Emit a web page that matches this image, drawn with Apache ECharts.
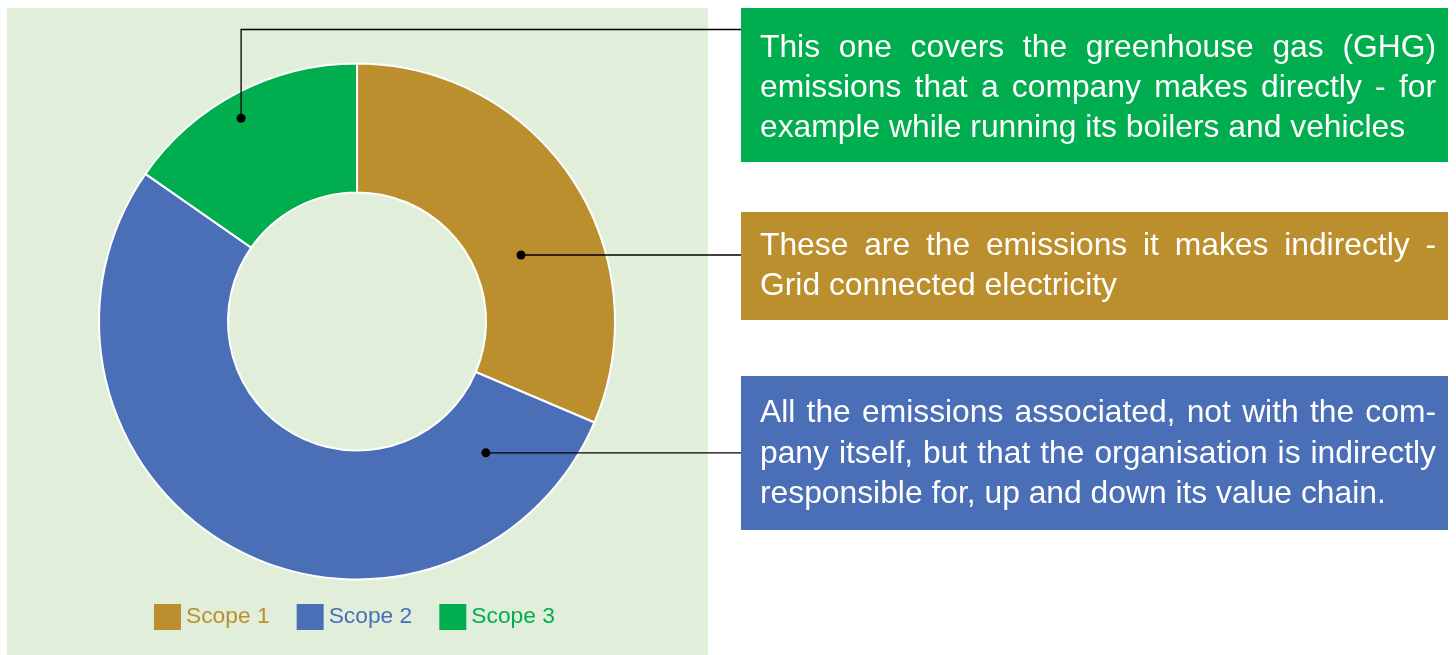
<!DOCTYPE html>
<html>
<head>
<meta charset="utf-8">
<script src="https://cdn.jsdelivr.net/npm/echarts@6/dist/echarts.min.js"></script>
<style>
  html, body { margin: 0; padding: 0; background: #ffffff; }
  #chart { width: 1456px; height: 655px; }
</style>
</head>
<body>
<div id="chart"></div>
<script>
// Emission shares by scope
const categories = ['Scope 1', 'Scope 2', 'Scope 3'];
const values = [31.4, 53.3, 15.3];
const colors = ['#BC8F2E', '#4A6FB7', '#00AE4F'];

// Explanatory notes, one per box (line breaks as typeset)
const noteScope3Box = [
  'This one covers the greenhouse gas (GHG)',
  'emissions that a company makes directly - for',
  'example while running its boilers and vehicles'
];
const noteScope1Box = [
  'These are the emissions it makes indirectly -',
  'Grid connected electricity'
];
const noteScope2Box = [
  'All the emissions associated, not with the com-',
  'pany itself, but that the organisation is indirectly',
  'responsible for, up and down its value chain.'
];

// Layout
const CX = 357, CY = 321.5, R0 = 129, R1 = 258;
const FONT_SIZE = 31.8;
const FONT_FAMILY = '"Liberation Sans", Arial, Helvetica, sans-serif';
const BOX_X = 741, BOX_W = 707, TEXT_X = 760, TEXT_W = 676;

const chart = echarts.init(document.getElementById('chart'), null, { renderer: 'canvas' });

// Slice angles (degrees clockwise from 12 o'clock)
const total = values.reduce((a, b) => a + b, 0);
const sliceAngles = [];
let acc = 0;
values.forEach(v => {
  const a0 = acc / total * 360;
  acc += v;
  sliceAngles.push([a0, acc / total * 360]);
});
function anchor(idx, frac, r) {
  const [a0, a1] = sliceAngles[idx];
  const a = (a0 + (a1 - a0) * frac) * Math.PI / 180;
  return [CX + r * Math.sin(a), CY - r * Math.cos(a)];
}

// Text measurement for justified lines
const measureCtx = document.createElement('canvas').getContext('2d');
measureCtx.font = FONT_SIZE + 'px ' + FONT_FAMILY;
function justifiedLine(line, y, justify) {
  const els = [];
  if (!justify) {
    els.push({
      type: 'text', x: TEXT_X, y: y, z: 10,
      style: { text: line, fill: '#ffffff', fontSize: FONT_SIZE, fontFamily: FONT_FAMILY, align: 'left', verticalAlign: 'middle' }
    });
    return els;
  }
  const words = line.split(' ');
  const widths = words.map(w => measureCtx.measureText(w).width);
  const sum = widths.reduce((a, b) => a + b, 0);
  const gap = (TEXT_W - sum) / (words.length - 1);
  let x = TEXT_X;
  words.forEach((w, i) => {
    els.push({
      type: 'text', x: x, y: y, z: 10,
      style: { text: w, fill: '#ffffff', fontSize: FONT_SIZE, fontFamily: FONT_FAMILY, align: 'left', verticalAlign: 'middle' }
    });
    x += widths[i] + gap;
  });
  return els;
}
function noteBox(lines, top, height, color, firstY, step) {
  const els = [{
    type: 'rect', z: 5,
    shape: { x: BOX_X, y: top, width: BOX_W, height: height },
    style: { fill: color }
  }];
  lines.forEach((ln, i) => {
    els.push(...justifiedLine(ln, firstY + i * step, i < lines.length - 1));
  });
  return els;
}

const LINE_STYLE = { stroke: '#000000', lineWidth: 1.3, fill: null };
function dot(p) {
  return { type: 'circle', z: 20, shape: { cx: p[0], cy: p[1], r: 4.5 }, style: { fill: '#000000' } };
}

const pScope3 = anchor(2, 0.461, 234);
const pScope1 = anchor(0, 0.601, 177);
const pScope2 = anchor(1, 0.1173, 184);

const graphics = [
  { type: 'rect', z: -10, shape: { x: 7, y: 8, width: 701, height: 647 }, style: { fill: '#E1EED9' } },
  ...noteBox(noteScope3Box, 8, 154, colors[2], 48, 40.3),
  ...noteBox(noteScope1Box, 212, 108, colors[0], 246, 40),
  ...noteBox(noteScope2Box, 376, 154, colors[1], 413.5, 40.5),
  { type: 'polyline', z: 15, shape: { points: [pScope3, [pScope3[0], 29.5], [BOX_X, 29.5]] }, style: LINE_STYLE },
  { type: 'polyline', z: 15, shape: { points: [pScope1, [BOX_X, pScope1[1]]] }, style: LINE_STYLE },
  { type: 'polyline', z: 15, shape: { points: [pScope2, [BOX_X, pScope2[1]]] }, style: LINE_STYLE },
  dot(pScope3), dot(pScope1), dot(pScope2)
];

chart.setOption({
  animation: false,
  backgroundColor: '#ffffff',
  color: colors,
  legend: {
    left: 149,
    top: 599,
    orient: 'horizontal',
    itemWidth: 27,
    itemHeight: 26,
    itemGap: 27,
    icon: 'rect',
    selectedMode: false,
    itemStyle: { borderWidth: 0 },
    textStyle: { fontSize: 22.8, fontFamily: FONT_FAMILY },
    data: categories.map((c, i) => ({ name: c, textStyle: { color: colors[i] } }))
  },
  graphic: graphics,
  series: [{
    type: 'pie',
    center: [CX, CY],
    radius: [R0, R1],
    startAngle: 90,
    clockwise: true,
    avoidLabelOverlap: false,
    label: { show: false },
    labelLine: { show: false },
    emphasis: { disabled: true },
    itemStyle: { borderColor: '#ffffff', borderWidth: 2 },
    data: categories.map((c, i) => ({ name: c, value: values[i] }))
  }]
});
</script>
</body>
</html>
